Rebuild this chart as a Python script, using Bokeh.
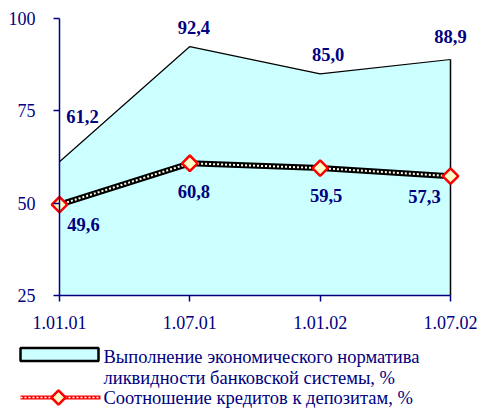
import math
from bokeh.plotting import figure
from bokeh.models import ColumnDataSource, Range1d, FixedTicker
from bokeh.embed import file_html
from bokeh.resources import INLINE
from bokeh.core.properties import value

# ---- data ----
dates = ["1.01.01", "1.07.01", "1.01.02", "1.07.02"]
liquidity = [61.2, 92.4, 85.0, 88.9]          # Выполнение норматива ликвидности, %
loans_to_deposits = [49.6, 60.8, 59.5, 57.3]  # Соотношение кредитов к депозитам, %
y_ticks = [25, 50, 75, 100]
legend_labels = [
    "Выполнение экономического норматива\nликвидности банковской системы, %",
    "Соотношение кредитов к депозитам, %",
]

# ---- styling / layout (not data) ----
NAVY = "#000080"
FONT = "serif"
AREA_FILL = "#CCFFFF"
W, H = 483, 408
X_FIRST_PX, X_LAST_PX = 59, 450     # pixel position of first / last category
Y_TOP_PX, Y_BOT_PX = 18, 295        # pixel position of y_max / y_min
liq_dx = [23, 4, 8, 0]
liq_dy = [-45, -19, -19, -23]
ltd_dx = [24, 4, 6, -26]
ltd_dy = [20, 28, 27, 20]

x = list(range(len(dates)))
y_min, y_max = y_ticks[0], y_ticks[-1]
ux = (X_LAST_PX - X_FIRST_PX) / (len(dates) - 1)
uy = (Y_BOT_PX - Y_TOP_PX) / (y_max - y_min)
x_start, x_end = -X_FIRST_PX / ux, (len(dates) - 1) + (W - X_LAST_PX) / ux
y_start, y_end = y_min - (H - Y_BOT_PX) / uy, y_max + Y_TOP_PX / uy


def px_x(px):   # canvas pixel -> data x (for the legend layout only)
    return x_start + px / ux


def px_y(px):   # canvas pixel -> data y (for the legend layout only)
    return y_end - px / uy


def fmt(v):
    return f"{v:.1f}".replace(".", ",")


p = figure(width=W, height=H,
           x_range=Range1d(x_start, x_end), y_range=Range1d(y_start, y_end),
           output_backend="svg", toolbar_location=None,
           min_border=0, min_border_left=0, min_border_right=0,
           min_border_top=0, min_border_bottom=0)
p.outline_line_color = None
p.grid.visible = False
p.background_fill_color = "white"

# area series
p.varea(x=x, y1=[y_min] * len(x), y2=liquidity, fill_color=AREA_FILL)
p.line(x=x, y=liquidity, line_color="black", line_width=1.2)
p.segment(x0=[x[-1]], y0=[y_min], x1=[x[-1]], y1=[liquidity[-1]],
          line_color="black", line_width=1.5)

# line series (patterned thick line)
p.line(x=x, y=loans_to_deposits, line_color="black", line_width=6)
p.line(x=x, y=loans_to_deposits, line_color="#FFFFE8", line_width=2,
       line_dash="2 2")
p.scatter(x=x, y=loans_to_deposits, marker="square", angle=math.pi / 4,
          size=11, fill_color="#FFFFCC", line_color="#FF0000", line_width=2.5)

# value labels
src_liq = ColumnDataSource(dict(x=x, y=liquidity, t=[fmt(v) for v in liquidity],
                                dx=liq_dx, dy=liq_dy))
src_ltd = ColumnDataSource(dict(x=x, y=loans_to_deposits,
                                t=[fmt(v) for v in loans_to_deposits],
                                dx=ltd_dx, dy=ltd_dy))
for src in (src_liq, src_ltd):
    p.text(x="x", y="y", text="t", x_offset="dx", y_offset="dy", source=src,
           text_font=value(FONT), text_font_style="bold",
           text_font_size="18.5px", text_color=NAVY,
           text_align="center", text_baseline="middle")

# axes placed at the data origin
p.xaxis.ticker = FixedTicker(ticks=x)
p.xaxis.major_label_overrides = {i: d for i, d in enumerate(dates)}
p.xaxis.bounds = (x[0], x[-1])
p.xaxis.fixed_location = y_min
p.xaxis.major_label_standoff = 14
p.yaxis.ticker = FixedTicker(ticks=y_ticks)
p.yaxis.bounds = (y_min, y_max)
p.yaxis.fixed_location = x[0]
p.yaxis.major_label_standoff = 18
for ax in (p.xaxis[0], p.yaxis[0]):
    ax.axis_line_color = NAVY
    ax.axis_line_width = 1.5
    ax.major_tick_line_color = NAVY
    ax.major_tick_line_width = 1.5
    ax.major_tick_out = 6
    ax.major_tick_in = 0
    ax.minor_tick_line_color = None
    ax.major_label_text_font = FONT
    ax.major_label_text_font_size = "18px"
    ax.major_label_text_color = NAVY

# ---- legend (drawn below the axis) ----
p.rect(x=[px_x(59)], y=[px_y(354)], width=[78 / ux], height=[13 / uy],
       fill_color=AREA_FILL, line_color="black", line_width=2.5)
p.line(x=[px_x(20), px_x(100)], y=[px_y(397)] * 2, line_color="#FF0000",
       line_width=4)
p.line(x=[px_x(20), px_x(100)], y=[px_y(397)] * 2, line_color="white",
       line_width=1.5, line_dash="2 2")
p.scatter(x=[px_x(58)], y=[px_y(397)], marker="square", angle=math.pi / 4,
          size=10, fill_color="#FFFFCC", line_color="#FF0000", line_width=2.5)

first_lines = legend_labels[0].split("\n")
p.text(x=[px_x(103)] * 3, y=[px_y(356), px_y(377), px_y(397)],
       text=first_lines + [legend_labels[1]],
       text_font=value(FONT), text_font_size="18.5px", text_color=NAVY,
       text_align="left", text_baseline="middle")

open("out.html", "w").write(file_html(p, INLINE))
